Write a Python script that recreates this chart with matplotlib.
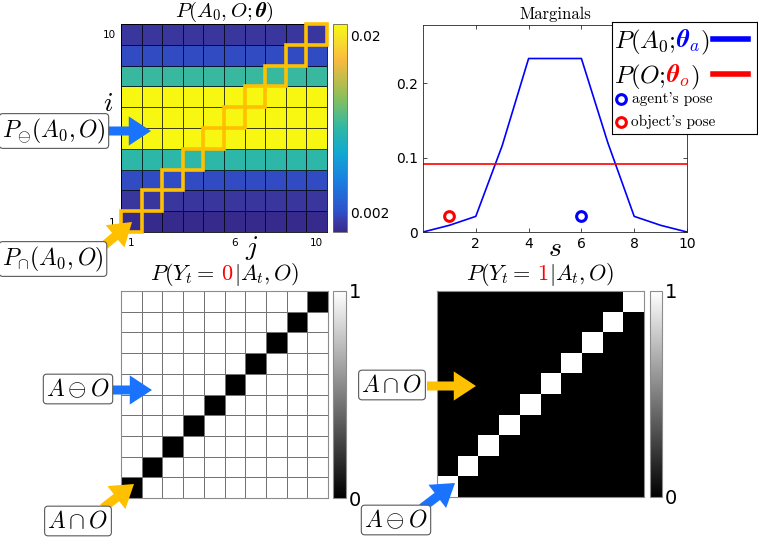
import numpy as np
import matplotlib
matplotlib.use('Agg')
import matplotlib.pyplot as plt
from matplotlib.colors import LinearSegmentedColormap
from matplotlib.patches import Rectangle, FancyArrowPatch
from matplotlib.offsetbox import TextArea, HPacker, AnnotationBbox

plt.rcParams['mathtext.fontset'] = 'cm'
plt.rcParams['font.family'] = 'DejaVu Sans'

W, H = 758, 537

# marginals
s_vals = [0, 1, 2, 3, 4, 5, 6, 7, 8, 9, 10]
p_agent = [0.0, 0.009, 0.021, 0.116, 0.233, 0.233, 0.233, 0.120, 0.021, 0.009, 0.0]
p_object = [0.091, 0.091, 0.091, 0.091, 0.091, 0.091, 0.091, 0.091, 0.091, 0.091, 0.091]
agent_pose = (6, 0.021)
object_pose = (1, 0.021)

# joint P(A0, O; theta): one value per row i, same along j
joint_rows = [0.0, 0.0008, 0.0019, 0.0105, 0.0212, 0.0212, 0.0212, 0.0109, 0.0019, 0.0008]
cells = [1, 2, 3, 4, 5, 6, 7, 8, 9, 10]
joint_ticks = [0.002, 0.02]
joint_ticklabels = ['0.002', '0.02']

# observation model, 1 on the diagonal for Y=1
n = len(cells)
y1 = np.eye(n)
y0 = 1 - y1

# parula-like map, toned to the colours seen in the figure
parula = LinearSegmentedColormap.from_list('parula', [
  (0.00, (0.21, 0.17, 0.55)),
  (0.05, (0.23, 0.23, 0.65)),
  (0.10, (0.18, 0.32, 0.80)),
  (0.25, (0.10, 0.50, 0.88)),
  (0.38, (0.07, 0.66, 0.82)),
  (0.50, (0.18, 0.72, 0.65)),
  (0.65, (0.55, 0.75, 0.35)),
  (0.83, (0.98, 0.73, 0.24)),
  (0.92, (0.97, 0.87, 0.17)),
  (1.00, (0.97, 0.97, 0.07))])

BLUE_ARROW = '#1a73ff'
GOLD = '#ffc000'
SERIF = ['cmr10', 'DejaVu Serif']


def px_rect(x0, y0, x1, y1):
  return [x0 / W, 1 - y1 / H, (x1 - x0) / W, (y1 - y0) / H]


def fig_pt(x, y):
  return (x / W, 1 - y / H)


def arrow(fig, tail, tip, color):
  a = FancyArrowPatch(fig_pt(*tail), fig_pt(*tip), transform=fig.transFigure,
                      arrowstyle='simple,head_length=16,head_width=21,tail_width=6.5',
                      mutation_scale=1, color=color, shrinkA=0, shrinkB=0, lw=0)
  fig.add_artist(a)


def label_box(fig, x, y, txt):
  fig.text(x / W, 1 - y / H, txt, fontsize=17, ha='center', va='center',
           bbox=dict(boxstyle='round,pad=0.12,rounding_size=0.15', fc='white', ec='0.35', lw=0.8))


def colored_text(parts, size):
  areas = [TextArea(t, textprops=dict(color=c, fontsize=size)) for t, c in parts]
  return HPacker(children=areas, align='baseline', pad=0, sep=0)


fig = plt.figure(figsize=(W / 100, H / 100), dpi=100)
edges = np.arange(0.5, n + 1.5)

# ---- top left: joint distribution
ax1 = fig.add_axes(px_rect(121, 24, 327, 232))
joint = np.tile(np.array(joint_rows)[:, None], (1, n))
m1 = ax1.pcolormesh(edges, edges, joint, cmap=parula, vmin=0, vmax=max(joint_rows),
                    edgecolors=(0, 0, 0, 0.75), linewidth=0.6)
for k in cells:
  ax1.add_patch(Rectangle((k - 0.5, k - 0.5), 1, 1, fill=False, ec=GOLD, lw=2.6,
                          clip_on=False, zorder=3))
ax1.set_xlim(0.5, n + 0.5)
ax1.set_ylim(0.5, n + 0.5)
ax1.set_xticks([1, 6, 10])
ax1.set_yticks([1, 10])
ax1.tick_params(length=0, labelsize=7.5, pad=4)
for sp in ax1.spines.values():
  sp.set_linewidth(0.6)
ax1.set_title(r'$P(A_0,O;\boldsymbol{\theta})$', fontsize=15, pad=2)
ax1.text(-0.063, 0.62, r'$i$', transform=ax1.transAxes, fontsize=20, ha='center', va='center')
ax1.text(0.636, -0.077, r'$j$', transform=ax1.transAxes, fontsize=20, ha='center', va='center')

cax1 = fig.add_axes(px_rect(333, 24, 347, 232))
cb1 = fig.colorbar(m1, cax=cax1, ticks=joint_ticks)
cb1.ax.set_yticklabels(joint_ticklabels)
cb1.ax.tick_params(labelsize=10, length=0, pad=2)
cb1.outline.set_linewidth(0.6)
cb1.outline.set_edgecolor('0.4')

# ---- top right: marginals
ax2 = fig.add_axes(px_rect(423, 25, 687, 232))
ax2.plot(s_vals, p_agent, color='blue', lw=1.2)
ax2.plot(s_vals, p_object, color='red', lw=1.2)
ax2.plot(agent_pose[0], agent_pose[1], 'o', ms=7, mfc='white', mec='blue', mew=2.2)
ax2.plot(object_pose[0], object_pose[1], 'o', ms=7, mfc='white', mec='red', mew=2.2)
ax2.set_xlim(0, 10)
ax2.set_ylim(0, 0.278)
ax2.set_xticks([2, 4, 6, 8, 10])
ax2.set_yticks([0, 0.1, 0.2])
ax2.set_yticklabels(['0', '0.1', '0.2'])
ax2.tick_params(direction='in', length=3, top=True, right=True, labelsize=10, width=0.5)
for sp in ax2.spines.values():
  sp.set_linewidth(0.6)
  sp.set_color('0.15')
ax2.set_title('Marginals', fontfamily=SERIF, fontsize=12, pad=4)
ax2.text(0.5, -0.077, r'$s$', transform=ax2.transAxes, fontsize=20, ha='center', va='center')

# legend drawn by hand (coloured symbols inside labels)
axl = fig.add_axes(px_rect(612, 22, 757, 134))
axl.set_xlim(0, 145)
axl.set_ylim(112, 0)
axl.set_xticks([])
axl.set_yticks([])
for sp in axl.spines.values():
  sp.set_linewidth(0.8)
  sp.set_color('black')
rows = [
  ([(r'$P(A_0;$', 'black'), (r'$\boldsymbol{\theta}_a$', 'blue'), (r'$)$', 'black')], 20),
  ([(r'$P(O;$', 'black'), (r'$\boldsymbol{\theta}_o$', 'red'), (r'$)$', 'black')], 55),
]
for parts, yy in rows:
  ab = AnnotationBbox(colored_text(parts, 18), (2, yy), xycoords='data', box_alignment=(0, 0.5),
                      frameon=False, pad=0)
  axl.add_artist(ab)
axl.plot([101, 136], [17, 17], color='blue', lw=4)
axl.plot([101, 136], [52, 52], color='red', lw=4)
axl.plot(9, 77, 'o', ms=7, mfc='white', mec='blue', mew=2.2)
axl.plot(9, 100, 'o', ms=7, mfc='white', mec='red', mew=2.2)
axl.text(20, 77, "agent's pose", fontfamily=SERIF, fontsize=11, va='center')
axl.text(19, 100, "object's pose", fontfamily=SERIF, fontsize=11, va='center')

# ---- bottom: observation model
panels = [
  (px_rect(121, 291, 328, 498), px_rect(333, 291, 346, 498), y0, '0', '0.45', 0.7),
  (px_rect(437, 291, 644, 497), px_rect(650, 291, 662, 497), y1, '1', 'none', 0),
]
for rect, crect, data, yval, ec, lw in panels:
  ax = fig.add_axes(rect)
  m = ax.pcolormesh(edges, edges, data, cmap='gray', vmin=0, vmax=1, edgecolors=ec, linewidth=lw)
  ax.set_xlim(0.5, n + 0.5)
  ax.set_ylim(0.5, n + 0.5)
  ax.set_xticks([])
  ax.set_yticks([])
  for sp in ax.spines.values():
    sp.set_color('0.55')
    sp.set_linewidth(0.8)
  title = colored_text([(r'$P(Y_t=$', 'black'), (r'$\ ' + yval + '$', 'red'), (r'$|A_t,O)$', 'black')], 16)
  ax.add_artist(AnnotationBbox(title, (0.5, 1.0), xycoords='axes fraction', xybox=(0, 2),
                               boxcoords='offset points', box_alignment=(0.5, 0), frameon=False, pad=0))
  cax = fig.add_axes(crect)
  cb = fig.colorbar(m, cax=cax, ticks=[0, 1])
  cb.ax.set_yticklabels(['0', '1'])
  cb.ax.tick_params(labelsize=14, length=0, pad=2)
  cb.outline.set_edgecolor('0.55')
  cb.outline.set_linewidth(0.8)

# ---- arrows and boxed labels
arrow(fig, (104, 131), (151, 131), BLUE_ARROW)
arrow(fig, (100, 249), (132, 222), GOLD)
arrow(fig, (113, 390), (152, 390), BLUE_ARROW)
arrow(fig, (103, 508), (134, 484), GOLD)
arrow(fig, (427, 386), (476, 386), GOLD)
arrow(fig, (422, 508), (455, 483), BLUE_ARROW)

label_box(fig, 54, 131, r'$P_{\ominus}(A_0,O)$')
label_box(fig, 53, 259, r'$P_{\cap}(A_0,O)$')
label_box(fig, 78, 389, r'$A\ominus O$')
label_box(fig, 78, 521, r'$A\cap O$')
label_box(fig, 392, 385, r'$A\cap O$')
label_box(fig, 396, 520, r'$A\ominus O$')

fig.savefig('out.png', dpi=100)
